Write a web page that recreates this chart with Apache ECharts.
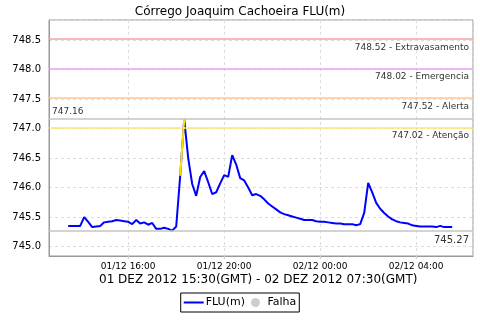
<!DOCTYPE html>
<html>
<head>
<meta charset="utf-8">
<script src="https://cdn.jsdelivr.net/npm/echarts@6/dist/echarts.min.js"></script>
<style>html,body{margin:0;padding:0;background:#fff}#c{width:480px;height:320px}</style>
</head>
<body>
<div id="c"></div>
<script>
// ---- data ----
const titleText = 'Córrego Joaquim Cachoeira FLU(m)';
const periodText = '01 DEZ 2012 15:30(GMT) - 02 DEZ 2012 07:30(GMT)';
const seriesName = 'FLU(m)';
const failName = 'Falha';
const startTime = Date.UTC(2012, 11, 1, 13, 30); // first reading (local)
const stepMinutes = 10;
const levels = [
  745.35, 745.35, 745.35, 745.35, 745.50, 745.42, 745.33, 745.34, 745.35, 745.41,
  745.42, 745.43, 745.45, 745.44, 745.43, 745.42, 745.38, 745.45, 745.39, 745.41,
  745.37, 745.40, 745.30, 745.30, 745.32, 745.30, 745.27, 745.34, 746.20, 747.16,
  746.50, 746.06, 745.86, 746.18, 746.28, 746.09, 745.89, 745.92, 746.07, 746.21,
  746.18, 746.55, 746.39, 746.16, 746.12, 746.00, 745.87, 745.89, 745.86, 745.80,
  745.73, 745.68, 745.63, 745.58, 745.55, 745.53, 745.51, 745.49, 745.47, 745.45,
  745.45, 745.45, 745.43, 745.42, 745.42, 745.41, 745.40, 745.39, 745.39, 745.38,
  745.38, 745.38, 745.36, 745.38, 745.57, 746.08, 745.92, 745.74, 745.64, 745.57,
  745.51, 745.46, 745.43, 745.41, 745.40, 745.39, 745.36, 745.35, 745.34, 745.34,
  745.34, 745.34, 745.33, 745.35, 745.33, 745.33, 745.33
];
const thresholdValues = [748.52, 748.02, 747.52, 747.02];
const thresholdNames = ['Extravasamento', 'Emergencia', 'Alerta', 'Atenção'];
const thresholdColors = ['#f2a3a3', '#e6a0f2', '#ffc58f', '#ffe66e'];
const maxValue = 747.16;
const minValue = 745.27;
const attentionSegment = [28, 29]; // indices of the segment drawn in yellow
const xMin = Date.UTC(2012, 11, 1, 12, 42);
const xMax = Date.UTC(2012, 11, 2, 6, 22);
const yMin = 744.84;
const yMax = 748.84;

// ---- build ----
const points = levels.map((v, i) => [startTime + i * stepMinutes * 60000, v]);
const pad = n => (n < 10 ? '0' : '') + n;
const font = 'DejaVu Sans';

const markData = thresholdValues.map((v, i) => ({
  yAxis: v,
  lineStyle: { color: thresholdColors[i], type: 'solid', width: 1.5 },
  label: { show: true, position: 'insideEndBottom', formatter: v.toFixed(2) + ' - ' + thresholdNames[i],
           color: '#333', fontSize: 9, fontFamily: font, distance: [4, 4] }
}));
markData.push({
  yAxis: maxValue,
  lineStyle: { color: '#c4c4c4', type: 'solid', width: 1.5 },
  label: { show: true, position: 'insideStartTop', formatter: maxValue.toFixed(2),
           color: '#333', fontSize: 9, fontFamily: font, distance: [3, 3] }
});
markData.push({
  yAxis: minValue,
  lineStyle: { color: '#c4c4c4', type: 'solid', width: 1.5 },
  label: { show: true, position: 'insideEndBottom', formatter: minValue.toFixed(2),
           color: '#333', fontSize: 10, fontFamily: font, distance: [4, 5] }
});

const chart = echarts.init(document.getElementById('c'));
chart.setOption({
  useUTC: true,
  animation: false,
  backgroundColor: '#fff',
  title: [
    { text: titleText, left: 'center', top: 1,
      textStyle: { fontSize: 12, fontWeight: 'normal', color: '#000', fontFamily: font } }
  ],
  graphic: [
    { type: 'text', left: 99, top: 274,
      style: { text: periodText, fontSize: 12, fill: '#000', fontFamily: font } }
  ],
  legend: {
    data: [
      { name: seriesName, icon: 'path://M0,0H20V2H0Z' },
      { name: failName, icon: 'circle' }
    ],
    bottom: 8, left: 'center',
    borderColor: '#000', borderWidth: 1, padding: [4, 3, 4, 3],
    itemGap: 6, itemWidth: 20, itemHeight: 9,
    textStyle: { fontSize: 11, color: '#000', fontFamily: font, padding: [0, 0, 0, -3] }
  },
  grid: { left: 49, right: 7, top: 20, bottom: 64, show: true, borderColor: '#999', borderWidth: 1 },
  xAxis: {
    type: 'time', min: xMin, max: xMax,
    minInterval: 4 * 3600000, maxInterval: 4 * 3600000,
    axisLine: { lineStyle: { color: '#999' } },
    axisTick: { show: true, inside: false, length: 3, lineStyle: { color: '#ccc' } },
    splitLine: { show: true, lineStyle: { color: '#ddd', type: [3, 3] } },
    axisLabel: {
      color: '#000', fontSize: 9, fontFamily: font, margin: 6,
      formatter: v => { const d = new Date(v); return pad(d.getUTCDate()) + '/' + pad(d.getUTCMonth() + 1) + ' ' + pad(d.getUTCHours()) + ':' + pad(d.getUTCMinutes()); }
    }
  },
  yAxis: {
    type: 'value', min: yMin, max: yMax, splitNumber: 8,
    axisLine: { show: true, lineStyle: { color: '#999' } },
    axisTick: { show: false },
    splitLine: { show: true, lineStyle: { color: '#ddd', type: [3, 3] } },
    axisLabel: { color: '#000', fontSize: 10, fontFamily: font, margin: 8,
                 showMinLabel: false, showMaxLabel: false,
                 formatter: v => v.toFixed(1) }
  },
  series: [
    {
      name: seriesName, type: 'line', data: points, symbol: 'none',
      lineStyle: { color: '#0000ff', width: 2 }, itemStyle: { color: '#0000ff' },
      z: 3,
      markLine: { silent: true, symbol: 'none', animation: false, data: markData }
    },
    {
      name: seriesName + ' ', type: 'line', data: points.slice(attentionSegment[0], attentionSegment[1] + 1),
      symbol: 'none', lineStyle: { color: '#ffe600', width: 2 }, z: 4
    },
    {
      name: failName, type: 'scatter', data: [], itemStyle: { color: '#c0c0c0' }, symbolSize: 8
    }
  ]
});
</script>
</body>
</html>
